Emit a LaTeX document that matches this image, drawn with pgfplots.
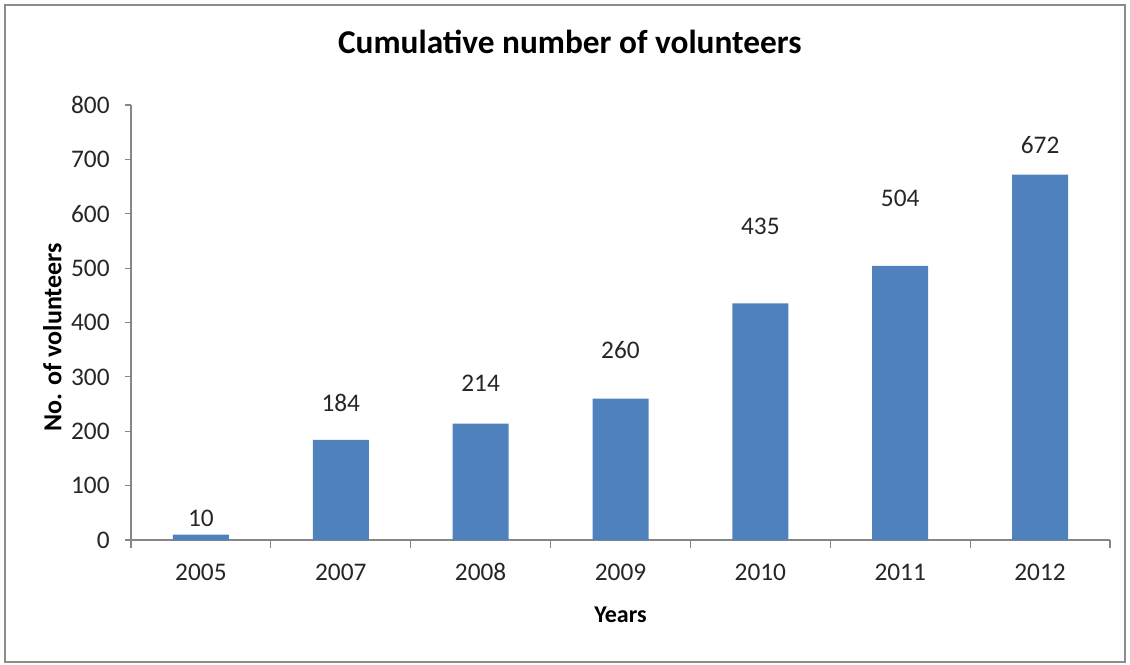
\documentclass[border=0pt]{standalone}
\usepackage{pgfplots}
\pgfplotsset{compat=1.18}
\usepackage{fontspec}
\setmainfont{Carlito}
\definecolor{barblue}{HTML}{4F81BD}
\definecolor{axgray}{HTML}{868686}
\begin{document}
\begin{tikzpicture}
\useasboundingbox (-98.25pt,-93pt) rectangle (749.25pt,405pt);
\draw[color=black!45, line width=1.3pt] (-94.5pt,-91.5pt) rectangle (745.5pt,401.25pt);
\begin{axis}[
  at={(0,0)}, anchor=south west,
  scale only axis, width=734.25pt, height=326.25pt,
  xmin=-0.5, xmax=6.5, ymin=0, ymax=800,
  axis x line*=bottom, axis y line*=left,
  axis line style={axgray, line width=0.8pt, -},
  ytick={0,100,...,800},
  xtick={0,...,6},
  xticklabels={2005,2007,2008,2009,2010,2011,2012},
  minor xtick={-0.5,0.5,...,6.5},
  tick align=outside,
  major tick length=4.5pt,
  minor tick length=6pt,
  x tick style={draw=none},
  minor x tick style={draw=axgray, line width=0.8pt},
  y tick style={axgray, line width=0.8pt},
  /pgf/number format/assume math mode=true,
  ticklabel style={font=\fontsize{19}{19}\selectfont, text=black!85},
  yticklabel style={xshift=-8pt},
  xticklabel style={yshift=-10pt, text height=12pt, text depth=0pt},
  title={Cumulative number of volunteers},
  title style={at={(axis description cs:0.5,1)}, xshift=-38pt, yshift=41pt, anchor=center, font=\bfseries\fontsize{25}{25}\selectfont},
  xlabel={Years},
  xlabel style={at={(axis description cs:0.5,0)}, yshift=-56pt, anchor=center, font=\bfseries\fontsize{18}{18}\selectfont},
  ylabel={No. of volunteers},
  ylabel style={at={(axis description cs:0,0.5)}, xshift=-11pt, yshift=59pt, anchor=center, font=\bfseries\fontsize{19.5}{19.5}\selectfont},
  clip=false,
]
\addplot[ybar, bar width=42pt, fill=barblue, draw=none] coordinates {
  (0,10) (1,184) (2,214) (3,260) (4,435) (5,504) (6,672)
};
\addplot[draw=none, mark=none, nodes near coords, point meta=explicit symbolic,
  nodes near coords align={center},
  every node near coord/.style={font=\fontsize{19}{19}\selectfont, text=black!85, anchor=center}]
  coordinates {
  (0,40)[10] (1,252)[184] (2,289)[214] (3,349)[260] (4,576)[435] (5,629)[504] (6,726)[672]
};
\end{axis}
\end{tikzpicture}
\end{document}
